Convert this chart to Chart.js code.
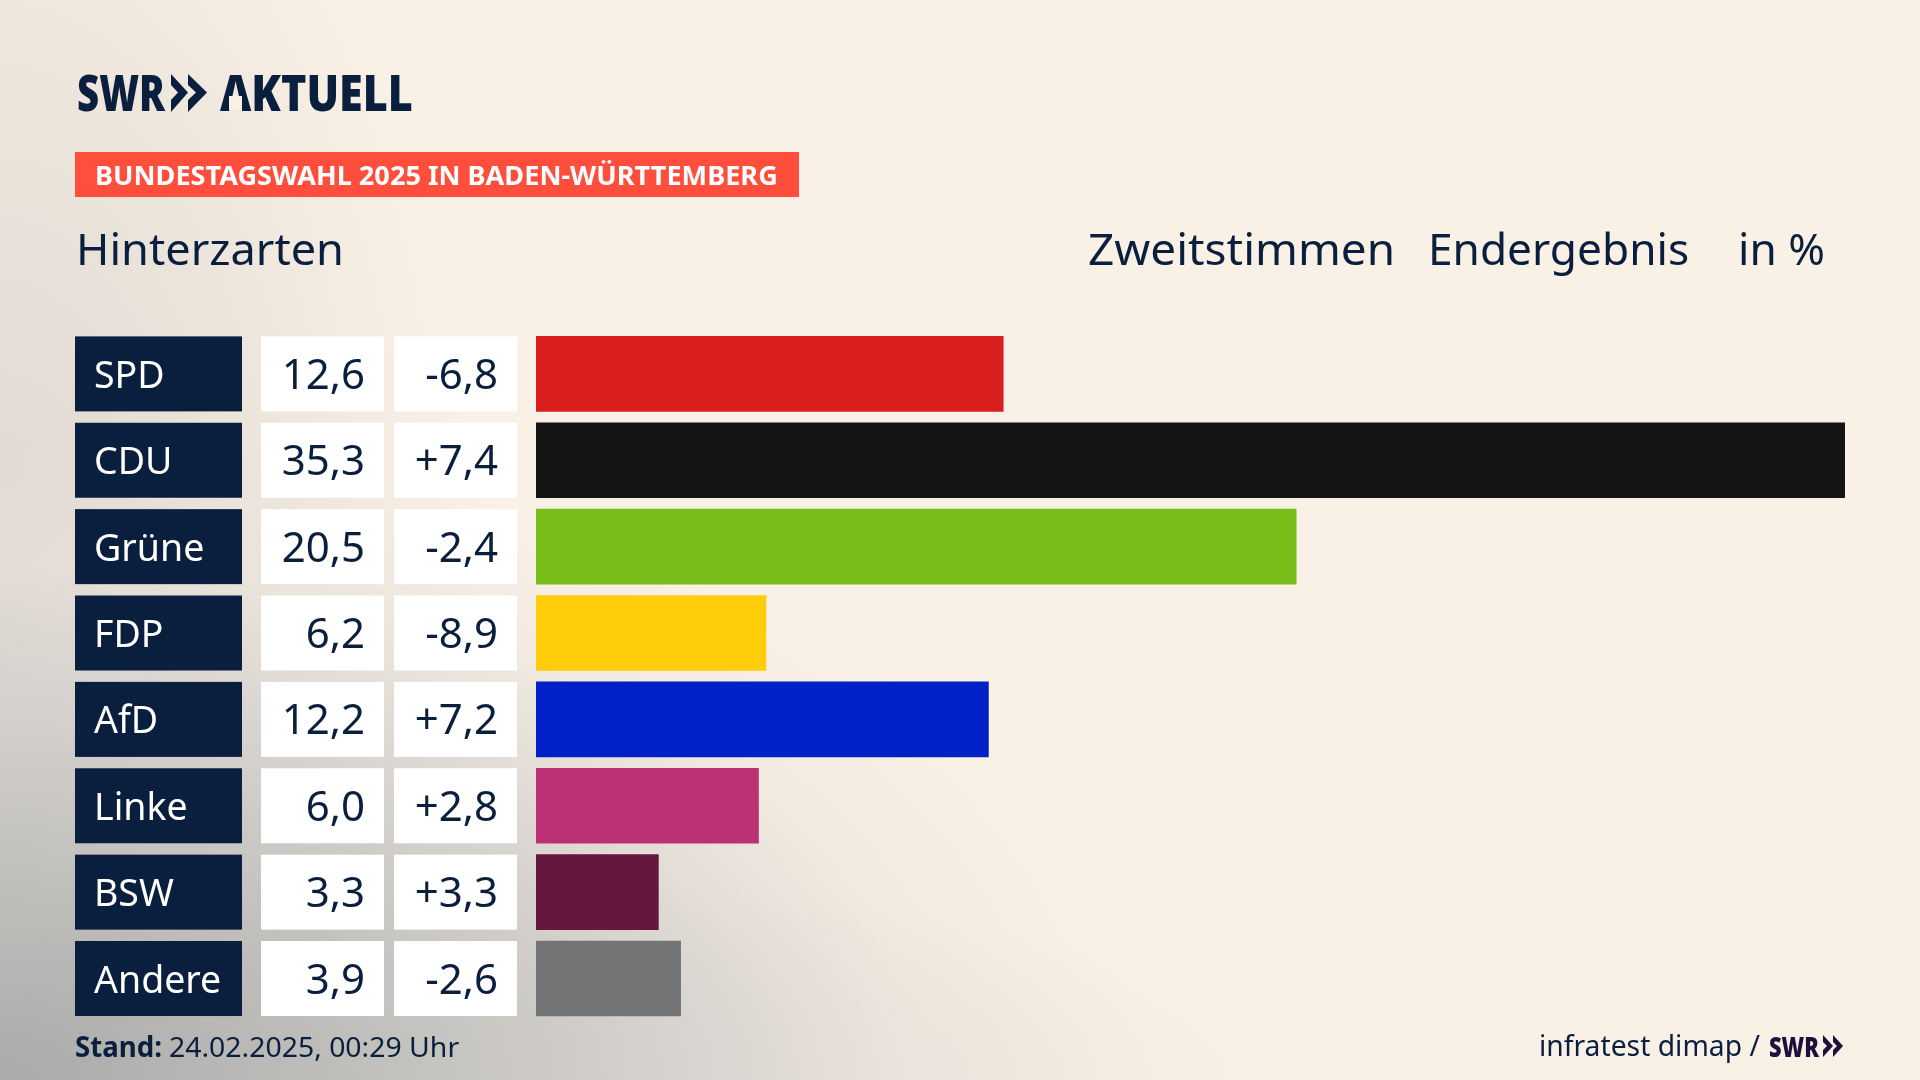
<!DOCTYPE html>
<html lang="de"><head><meta charset="utf-8"><title>Hinterzarten</title>
<style>
html,body{margin:0;padding:0;width:1920px;height:1080px;overflow:hidden;background:#faf1e6}
#bg{position:absolute;inset:0;background:
 radial-gradient(ellipse 1150px 640px at 0 1080px,rgba(170,170,170,1) 0,rgba(190,189,186,.97) 30%,rgba(208,205,201,.85) 55%,rgba(232,226,218,.5) 80%,rgba(250,241,230,0) 100%),
 radial-gradient(ellipse 1300px 240px at 0 1080px,rgba(205,202,197,.8) 0,rgba(225,219,212,.6) 60%,rgba(250,241,230,0) 100%),
 radial-gradient(ellipse 480px 950px at 0 620px,rgba(200,196,192,.6) 0,rgba(250,241,230,0) 100%),
 #faf1e6}
canvas{position:absolute;left:0;top:0}
.t{position:absolute;white-space:nowrap;color:#0a1f3e;font-family:"Noto Sans",sans-serif;transform-origin:0 0;line-height:1}
#badge{position:absolute;left:75px;top:152px;width:724px;height:45px;background:#ff4f3c}
svg{position:absolute;left:0;top:0}
</style>
<script src="https://cdn.jsdelivr.net/npm/chart.js@4/dist/chart.umd.min.js"></script>
</head><body>
<div id="bg"></div>
<canvas id="c" width="1920" height="1080"></canvas>
<div id="badge"></div>
<svg width="1920" height="1080">
 <g fill="#0a1f3e"><polygon points="171,74 188,92.5 171,112 171,100 178,92.5 171,85"/><polygon points="188,74 207,92.5 188,112 188,100 196,92.5 188,85"/></g>
 <g fill="#200f3c"><polygon points="1823,1035 1833,1046 1823,1057 1823,1050 1827,1046 1823,1042"/><polygon points="1833,1035 1843,1046 1833,1057 1833,1050 1837,1046 1833,1042"/></g>
</svg>
<div class="t" data-x="77" data-b="110" data-w="88" style="font-size:49px;font-weight:900">SWR</div>
<div class="t" data-x="220" data-b="110" data-w="193" style="font-size:49px;font-weight:900">AKTUELL</div>
<svg width="1920" height="1080"><rect x="229" y="96" width="13" height="14" fill="#faf1e6"/></svg>
<div class="t" data-x="95" data-b="184" data-w="683" style="font-size:27px;font-weight:700;color:#fff">BUNDESTAGSWAHL 2025 IN BADEN-WÜRTTEMBERG</div>
<div class="t" data-x="76" data-b="264" data-w="268" style="font-size:44px">Hinterzarten</div>
<div class="t" data-x="1088" data-b="264" data-w="307" style="font-size:44px">Zweitstimmen</div>
<div class="t" data-x="1428" data-b="264" data-w="261" style="font-size:44px">Endergebnis</div>
<div class="t" data-x="1738" data-b="264" data-w="87" style="font-size:44px">in %</div>
<div class="t" data-x="75" data-b="1056" data-w="87" style="font-size:28px;font-weight:700">Stand:</div>
<div class="t" data-x="169" data-b="1056" data-w="290" style="font-size:28px">24.02.2025, 00:29 Uhr</div>
<div class="t" data-x="1539" data-b="1055" data-w="221" style="font-size:29px">infratest dimap /</div>
<div class="t" data-x="1769" data-b="1056" data-w="50" style="font-size:29px;font-weight:900;color:#200f3c">SWR</div>
<script>
const parties = ["SPD","CDU","Grüne","FDP","AfD","Linke","BSW","Andere"];
const shares = [12.6,35.3,20.5,6.2,12.2,6.0,3.3,3.9];
const changes = [-6.8,7.4,-2.4,-8.9,7.2,2.8,3.3,-2.6];
const colours = ["#d91f1f","#141414","#78be1a","#ffcd0a","#0020c8","#bc3076","#66173e","#737476"];

const de1 = v => v.toFixed(1).replace(".",",");
const signed = v => (v>0?"+":"")+de1(v);
const NAVY="#0a1f3e", FONT='"Noto Sans",sans-serif';

const cells = {
  id:"cells",
  beforeDraw(ch){
    const y=ch.scales.y, c=ch.ctx, h=75;
    c.save();
    parties.forEach((p,i)=>{
      const top=y.getPixelForValue(i)-h/2;
      c.fillStyle=NAVY; c.fillRect(75,top,167,h);
      c.fillStyle="#fff"; c.fillRect(261,top,123,h); c.fillRect(394,top,123,h);
    });
    c.restore();
  },
  afterDatasetsDraw(ch){
    const y=ch.scales.y, c=ch.ctx;
    c.save();
    c.textBaseline="alphabetic";
    parties.forEach((p,i)=>{
      const m=y.getPixelForValue(i);
      c.font='37.5px '+FONT; c.fillStyle="#fff"; c.textAlign="left";
      c.fillText(y.getLabelForValue(i),94,m+14);
      c.font='42px '+FONT; c.fillStyle=NAVY; c.textAlign="right";
      c.fillText(de1(shares[i]),365,m+15);
      c.fillText(signed(changes[i]),498,m+15);
    });
    c.restore();
  }
};

new Chart(document.getElementById("c"),{
  type:"bar",
  data:{labels:parties,datasets:[{data:shares,backgroundColor:colours,borderWidth:0,barThickness:75}]},
  options:{
    indexAxis:"y",responsive:false,animation:false,devicePixelRatio:1,
    layout:{padding:{left:94,right:75,top:330.7,bottom:58.3}},
    plugins:{legend:{display:false},tooltip:{enabled:false}},
    scales:{
      x:{min:0,max:Math.max(...shares),display:false},
      y:{grid:{display:false},border:{display:false},afterFit(s){s.width=442},ticks:{display:false}}
    }
  },
  plugins:[cells]
});

document.fonts.ready.then(()=>{
  document.querySelectorAll(".t").forEach(e=>{
    const w=e.getBoundingClientRect().width, s=+e.dataset.w/w, fs=parseFloat(e.style.fontSize);
    e.style.left=e.dataset.x+"px";
    e.style.top=(+e.dataset.b-fs*0.86)+"px";
    e.style.transform="scaleX("+s.toFixed(3)+")";
  });
});
</script>
</body></html>
